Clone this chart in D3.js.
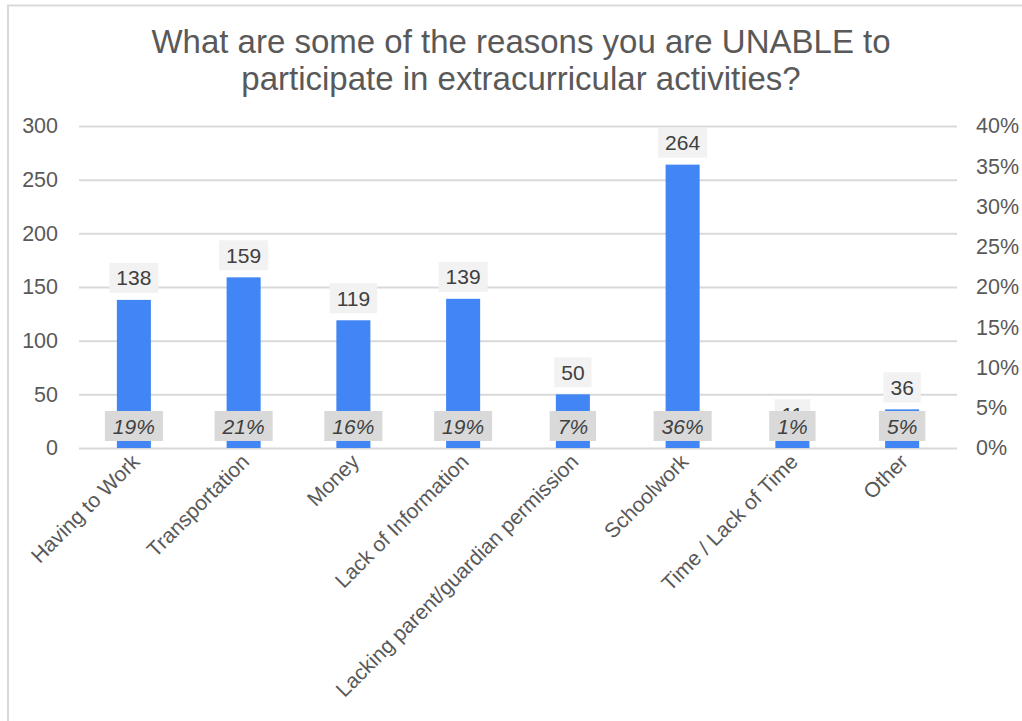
<!DOCTYPE html>
<html>
<head>
<meta charset="utf-8">
<script src="https://cdn.jsdelivr.net/npm/d3@7"></script>
<style>
  body { margin: 0; background: #fff; }
  svg { display: block; font-family: "Liberation Sans", Arial, sans-serif; }
</style>
</head>
<body>
<div class="chart"></div>
<script>
var categories = ["Having to Work", "Transportation", "Money", "Lack of Information",
  "Lacking parent/guardian permission", "Schoolwork", "Time / Lack of Time", "Other"];
var counts = [138, 159, 119, 139, 50, 264, 11, 36];
var percents = [19, 21, 16, 19, 7, 36, 1, 5];
var leftTicks = [0, 50, 100, 150, 200, 250, 300];
var rightTicks = [0, 5, 10, 15, 20, 25, 30, 35, 40];
var titleLines = ["What are some of the reasons you are UNABLE to",
  "participate in extracurricular activities?"];

var W = 1022, H = 721;
var plotLeft = 79, plotRight = 957, plotTop = 126, plotBottom = 448;

var svg = d3.select(".chart").append("svg")
  .attr("width", W)
  .attr("height", H);

// frame
svg.append("line").attr("x1", 7).attr("x2", W).attr("y1", 5.5).attr("y2", 5.5)
  .attr("stroke", "#d9d9d9").attr("stroke-width", 2);
svg.append("line").attr("x1", 8).attr("x2", 8).attr("y1", 5).attr("y2", H)
  .attr("stroke", "#d9d9d9").attr("stroke-width", 2);

svg.selectAll(".title").data(titleLines).enter().append("text")
  .attr("x", 521)
  .attr("y", function(d, i) { return 53 + i * 37; })
  .attr("text-anchor", "middle")
  .attr("font-size", 33)
  .attr("fill", "#595959")
  .text(function(d) { return d; });

var x = d3.scaleBand().domain(categories).range([plotLeft, plotRight]).paddingInner(0.69).paddingOuter(0.345);
var y = d3.scaleLinear().domain([0, 300]).range([plotBottom, plotTop]);
var y2 = d3.scaleLinear().domain([0, 40]).range([plotBottom, plotTop]);

// gridlines
svg.append("g")
  .attr("transform", "translate(" + plotLeft + ",0)")
  .call(d3.axisLeft(y).tickValues(leftTicks).tickSize(-(plotRight - plotLeft)).tickFormat(""))
  .call(function(g) {
    g.select(".domain").remove();
    g.selectAll("line").attr("stroke", "#d9d9d9").attr("stroke-width", 2);
  });

function styleLabels(g) {
  g.select(".domain").remove();
  g.selectAll("text").attr("font-size", 21.5).attr("fill", "#595959")
    .attr("font-family", "Liberation Sans, Arial, sans-serif");
}

// left axis labels
svg.append("g")
  .attr("transform", "translate(61,0)")
  .call(d3.axisLeft(y).tickValues(leftTicks).tickSize(0))
  .call(styleLabels);

// right axis labels
svg.append("g")
  .attr("transform", "translate(973,0)")
  .call(d3.axisRight(y2).tickValues(rightTicks).tickSize(0).tickFormat(function(d) { return d + "%"; }))
  .call(styleLabels);

// bars
svg.selectAll(".bar").data(counts).enter().append("rect")
  .attr("x", function(d, i) { return x(categories[i]); })
  .attr("y", function(d) { return y(d); })
  .attr("width", x.bandwidth())
  .attr("height", function(d) { return y(0) - y(d); })
  .attr("fill", "#4285f4");

function boxedLabels(data, fmt, posY, fill, italic, pad) {
  var g = svg.selectAll(null).data(data).enter().append("g")
    .attr("transform", function(d, i) {
      return "translate(" + (x(categories[i]) + x.bandwidth() / 2) + "," + posY(d) + ")";
    });
  var box = g.append("rect").attr("fill", fill).attr("y", -15).attr("height", 30);
  var txt = g.append("text")
    .attr("text-anchor", "middle").attr("dy", "0.36em")
    .attr("font-size", 21).attr("fill", "#404040")
    .attr("font-style", italic ? "italic" : "normal")
    .text(fmt);
  txt.each(function() {
    var w = this.getComputedTextLength() + pad * 2;
    d3.select(this.parentNode).select("rect").attr("x", -w / 2).attr("width", w);
  });
}

// value labels
boxedLabels(counts, function(d) { return d; }, function(d) { return y(d) - 22; }, "#f2f2f2", false, 7);
// percent labels
boxedLabels(percents, function(d) { return d + "%"; }, function() { return 426; }, "#d9d9d9", true, 8);

// category labels
svg.selectAll(".xlab").data(categories).enter().append("text")
  .attr("transform", function(d) {
    return "translate(" + (x(d) + x.bandwidth() / 2 + 7) + ",463) rotate(-45)";
  })
  .attr("text-anchor", "end")
  .attr("font-size", 21)
  .attr("fill", "#595959")
  .text(function(d) { return d; });
</script>
</body>
</html>
